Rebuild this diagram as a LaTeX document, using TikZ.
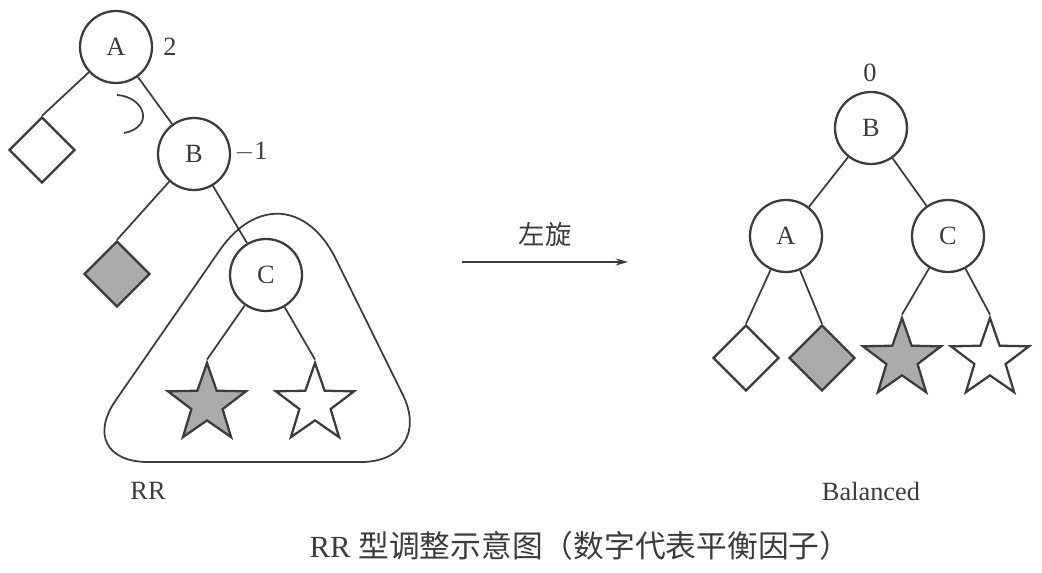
\documentclass[tikz,border=0pt]{standalone}
\usepackage{fontspec}
\setmainfont{Liberation Serif}
\newfontfamily\cjk{Noto Sans CJK SC}
\usetikzlibrary{shapes.geometric,arrows.meta}
\definecolor{ink}{HTML}{3C3C3C}
\definecolor{shade}{HTML}{ABABAB}

\begin{document}
\begin{tikzpicture}[
  x=0.02cm, y=-0.02cm,
  every node/.style={font=\fontsize{15}{18}\selectfont, text=ink},
  tnode/.style={draw=ink, circle, line width=1.3pt, minimum size=1.44cm, inner sep=0pt},
  leaf/.style={draw=ink, diamond, line width=1.3pt, minimum size=1.32cm, inner sep=0pt, fill=white},
  gleaf/.style={leaf, fill=shade},
  sleaf/.style={draw=ink, star, star points=5, star point ratio=2.5, line width=1.3pt, minimum size=1.64cm, inner sep=0pt, fill=white},
  gsleaf/.style={sleaf, fill=shade},
  edge/.style={draw=ink, line width=1pt},
  arrow/.style={-{Stealth[length=7pt, width=4pt]}, draw=ink, line width=1pt}
]
\useasboundingbox (0,0) rectangle (1042,573);

% before the rotation
\node[tnode] (A) at (116,47)  {A};
\node (fA) at (170,47) {2};
\node[tnode] (B) at (194,154) {B};
\node (fB) at (251,152) {$-$1};
\node[tnode] (C) at (266,275) {C};
\node[leaf]  (a1) at (42,150)  {};
\node[gleaf] (b1) at (117,274) {};
\node[gsleaf] (c1) at (207,404) {};
\node[sleaf]  (c2) at (315,404) {};
\draw[edge] (A) -- (a1.north);
\draw[edge] (A) -- (B);
\draw[edge] (B) -- (b1.north);
\draw[edge] (B) -- (C);
\draw[edge] (C) -- (c1.north);
\draw[edge] (C) -- (c2.north);
\draw[edge] (117,95) .. controls (145,97) and (155,127) .. (124,133);
\draw[draw=ink, line width=1pt] (260,462) [rounded corners=1.5cm] -- (436,462)
  [rounded corners=2.3cm] -- (285,156) [rounded corners=1.5cm] -- (73,462) -- cycle;
\node (rr) at (148,491) {RR};

% rotation
\coordinate (p) at (462,262);
\coordinate (q) at (628,262);
\draw[arrow] (p) -- (q);
\node (rot) at (545,234) {\cjk 左旋};

% after the rotation
\node[tnode] (B2) at (871,128) {B};
\node (fB2) at (870,73) {0};
\node[tnode] (A2) at (786,236) {A};
\node[tnode] (C2) at (948,236) {C};
\node[leaf]  (a2) at (746,358) {};
\node[gleaf] (b2) at (822,358) {};
\node[gsleaf] (c3) at (902,359) {};
\node[sleaf]  (c4) at (990,359) {};
\draw[edge] (B2) -- (A2);
\draw[edge] (B2) -- (C2);
\draw[edge] (A2) -- (a2.north);
\draw[edge] (A2) -- (b2.north);
\draw[edge] (C2) -- (c3.north);
\draw[edge] (C2) -- (c4.north);
\node (bal) at (871,491) {Balanced};

\node[font=\fontsize{17.5}{20}\selectfont] (cap) at (580,546) {RR {\cjk 型调整示意图（数字代表平衡因子）}};
\end{tikzpicture}
\end{document}
